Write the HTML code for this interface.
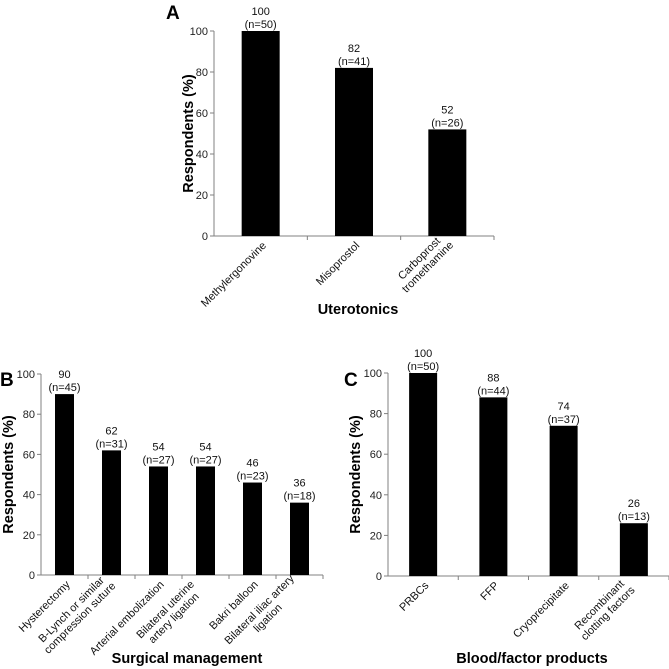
<!DOCTYPE html>
<html><head><meta charset="utf-8"><style>
html,body{margin:0;padding:0;background:#fff;}
svg{display:block;font-family:"Liberation Sans",Arial,sans-serif;}
</style></head><body>
<svg id="chart" width="669" height="669" viewBox="0 0 669 669"></svg>
<script>
const catsA = [["Methylergonovine"],["Misoprostol"],["Carboprost","tromethamine"]];
const valsA = [100,82,52];
const nA = [50,41,26];
const catsB = [["Hysterectomy"],["B-Lynch or similar","compression suture"],["Arterial embolization"],["Bilateral uterine","artery ligation"],["Bakri balloon"],["Bilateral iliac artery","ligation"]];
const valsB = [90,62,54,54,46,36];
const nB = [45,31,27,27,23,18];
const catsC = [["PRBCs"],["FFP"],["Cryoprecipitate"],["Recombinant","clotting factors"]];
const valsC = [100,88,74,26];
const nC = [50,44,37,13];
const yTicks = [0,20,40,60,80,100];

const svg = document.getElementById('chart');
const NS = 'http://www.w3.org/2000/svg';
function mk(tag, attrs, parent, text){
  const e = document.createElementNS(NS, tag);
  for (const k in attrs) e.setAttribute(k, attrs[k]);
  if (text !== undefined) e.textContent = text;
  (parent||svg).appendChild(e);
  return e;
}
function panel(id, cfg, cats, vals, ns){
  const g = mk('g', {});
  
  
  const yS = v => cfg.y0 + (cfg.y100 - cfg.y0) * v / 100;
  const slot = (cfg.xEnd - cfg.xAx) / cats.length;
  const xC = i => cfg.xAx + slot * (i + 0.5);
  const L = mk('text', {x: cfg.lx, y: cfg.ly, 'font-size': 19, 'font-weight': 'bold'}, g, id);
  
  
  const ya = mk('line', {x1: cfg.xAx, x2: cfg.xAx, y1: yS(0), y2: yS(100), stroke: '#808080', 'stroke-width': 1}, g);
  
  
  yTicks.forEach(t => {
    mk('line', {x1: cfg.xAx - 4, x2: cfg.xAx, y1: yS(t), y2: yS(t), stroke: '#808080'}, g);
    const tl = mk('text', {x: cfg.xAx - 6, y: yS(t) + 4, 'font-size': 11, 'text-anchor': 'end', fill: '#222'}, g, t);
    
    
  });
  const xa = mk('line', {x1: cfg.xAx, x2: cfg.xEnd, y1: yS(0), y2: yS(0), stroke: '#808080'}, g);
  
  
  for (let i = 1; i <= cats.length; i++) {
    const x = cfg.xAx + slot * i;
    mk('line', {x1: x, x2: x, y1: yS(0), y2: yS(0) + 4, stroke: '#808080'}, g);
  }
  vals.forEach((v, i) => {
    const b = mk('rect', {x: xC(i) - cfg.bw / 2, y: yS(v), width: cfg.bw, height: yS(0) - yS(v), fill: '#000'}, g);
    
    
    const t1 = mk('text', {x: xC(i), y: yS(v) - 16, 'font-size': 11, 'text-anchor': 'middle', fill: '#111'}, g, v);
    
    
    const t2 = mk('text', {x: xC(i), y: yS(v) - 3, 'font-size': 11, 'text-anchor': 'middle', fill: '#111'}, g, '(n=' + ns[i] + ')');
    
    
    const cx = xC(i) + 4, cy = yS(0) + 8;
    const ct = mk('text', {transform: 'translate(' + cx + ',' + cy + ') rotate(-45)', 'font-size': 11, 'text-anchor': 'end', fill: '#111'}, g);
    
    
    const lines = cats[i];
    lines.forEach((s, j) => {
      const dy = (j - (lines.length - 1)) * 12 + 3;
      mk('tspan', {x: 0, y: dy, 'text-anchor': lines.length > 1 ? 'middle' : 'end', dx: lines.length > 1 ? -cfg.mlOff : 0}, ct, s);
    });
  });
  const yt = mk('text', {transform: 'translate(' + cfg.ytx + ',' + (yS(50)) + ') rotate(-90)', 'font-size': 14.5, 'font-weight': 'bold', 'text-anchor': 'middle'}, g, 'Respondents (%)');
  
  
  const xt = mk('text', {x: cfg.xtx, y: cfg.xty, 'font-size': 14.5, 'font-weight': 'bold', 'text-anchor': 'middle'}, g, cfg.xtitle);
  
  
}
panel('A', {xAx: 214, xEnd: 494, y0: 236, y100: 31, bw: 38, lx: 166, ly: 19, ytx: 193, xtx: 358, xty: 314, xtitle: 'Uterotonics', mlOff: 33}, catsA, valsA, nA);
panel('B', {xAx: 41, xEnd: 323, y0: 575, y100: 374, bw: 19, lx: 0, ly: 386, ytx: 13, xtx: 187, xty: 663, xtitle: 'Surgical management', mlOff: 50}, catsB, valsB, nB);
panel('C', {xAx: 388, xEnd: 669, y0: 576, y100: 373, bw: 28, lx: 344, ly: 386, ytx: 360, xtx: 532, xty: 663, xtitle: 'Blood/factor products', mlOff: 42}, catsC, valsC, nC);
</script>
</body></html>
